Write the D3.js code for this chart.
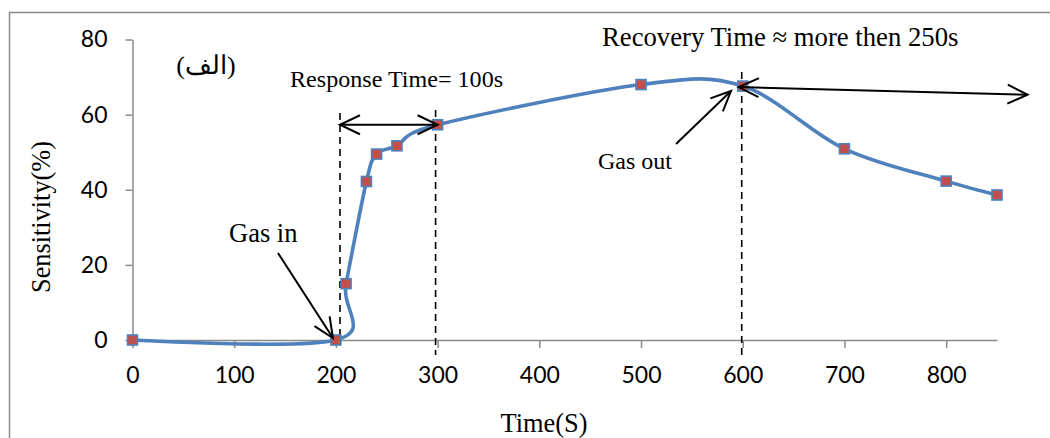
<!DOCTYPE html>
<html>
<head>
<meta charset="utf-8">
<script src="https://cdn.jsdelivr.net/npm/d3@7/dist/d3.min.js"></script>
<style>
  html, body { margin: 0; padding: 0; background: #fff; }
  svg { display: block; }
  .serif { font-family: "Liberation Serif", "Times New Roman", serif; fill: #000; }
  .tick text { font-family: Lato, "Open Sans", sans-serif; font-size: 23px; fill: #000; }
</style>
</head>
<body>
<svg id="chart" width="1050" height="438"></svg>
<script>
// Sensor response: time (s) vs sensitivity (%)
const times = [0, 200, 210, 230, 240, 260, 300, 500, 600, 700, 800, 850];
const sensitivity = [0, 0, 15, 42.2, 49.5, 51.7, 57.3, 68, 67.6, 50.9, 42.3, 38.6];

const xTicks = [0, 100, 200, 300, 400, 500, 600, 700, 800];
const yTicks = [0, 20, 40, 60, 80];

// Annotation anchors (in data units)
const gasInTime = 204;       // start of response window
const responseEndTime = 298; // end of response window
const gasOutTime = 599;      // gas switched off
const recoveryEnd = [880, 65.3];

const svg = d3.select("#chart");
const W = 1050, H = 438;

const x = d3.scaleLinear().domain([0, 850]).range([132.5, 997]);
const y = d3.scaleLinear().domain([0, 80]).range([340, 39.5]);

// Outer chart border
svg.append("rect")
  .attr("x", 9.5).attr("y", 12.5)
  .attr("width", W).attr("height", H)
  .attr("fill", "none").attr("stroke", "#8c8c8c").attr("stroke-width", 1.5);

// Axes
const axisColor = "#8a8a8a";
const gx = svg.append("g")
  .attr("transform", `translate(0,${y(0)})`)
  .call(d3.axisBottom(x).tickValues(xTicks).tickSize(8).tickSizeOuter(0).tickPadding(19)
    .tickFormat(d3.format("d")));
const gy = svg.append("g")
  .attr("transform", `translate(${x(0)},0)`)
  .call(d3.axisLeft(y).tickValues(yTicks).tickSize(7).tickSizeOuter(0).tickPadding(18)
    .tickFormat(d3.format("d")));
[gx, gy].forEach(g => {
  g.select(".domain").attr("stroke", axisColor).attr("stroke-width", 1.5);
  g.selectAll(".tick line").attr("stroke", axisColor).attr("stroke-width", 1.5);
});

// Axis titles
svg.append("text").attr("class", "serif")
  .attr("x", 544).attr("y", 432)
  .attr("text-anchor", "middle").attr("font-size", 26.4)
  .text("Time(S)");
svg.append("text").attr("class", "serif")
  .attr("transform", "translate(50,217) rotate(-90)")
  .attr("text-anchor", "middle").attr("font-size", 26.3)
  .text("Sensitivity(%)");

// Dashed guide lines
const dash = [
  { t: gasInTime, y1: 113, y2: 340 },
  { t: responseEndTime, y1: 110, y2: 355 },
  { t: gasOutTime, y1: 72, y2: 355 }
];
svg.selectAll("line.guide").data(dash).enter().append("line")
  .attr("class", "guide")
  .attr("x1", d => x(d.t)).attr("x2", d => x(d.t))
  .attr("y1", d => d.y1).attr("y2", d => d.y2)
  .attr("stroke", "#000").attr("stroke-width", 1.6)
  .attr("stroke-dasharray", "7,5");

// Smoothed data line
const pts = times.map((t, i) => [t, sensitivity[i]]);
const line = d3.line()
  .x(d => x(d[0])).y(d => y(d[1]))
  .curve(d3.curveCatmullRom.alpha(0));
svg.append("path")
  .datum(pts)
  .attr("d", line)
  .attr("fill", "none")
  .attr("stroke", "#4F81BD")
  .attr("stroke-width", 3.6)
  .attr("stroke-linejoin", "round");

// Square markers
const ms = 10;
svg.selectAll("rect.pt").data(pts).enter().append("rect")
  .attr("class", "pt")
  .attr("x", d => x(d[0]) - ms / 2).attr("y", d => y(d[1]) - ms / 2)
  .attr("width", ms).attr("height", ms)
  .attr("fill", "#C0504D").attr("stroke", "#4F81BD").attr("stroke-width", 1.6);

// Open-V arrow helpers
function head(g, tip, from, len, half) {
  const dx = from[0] - tip[0], dy = from[1] - tip[1];
  const L = Math.hypot(dx, dy), ux = dx / L, uy = dy / L;
  const bx = tip[0] + ux * len, by = tip[1] + uy * len;
  const px = -uy * half, py = ux * half;
  g.append("path")
    .attr("d", `M${bx + px},${by + py}L${tip[0]},${tip[1]}L${bx - px},${by - py}`)
    .attr("fill", "none").attr("stroke", "#000").attr("stroke-width", 2)
    .attr("stroke-linejoin", "miter");
}
function arrow(a, b, both, len = 20, half = 9.5) {
  const g = svg.append("g");
  g.append("line")
    .attr("x1", a[0]).attr("y1", a[1]).attr("x2", b[0]).attr("y2", b[1])
    .attr("stroke", "#000").attr("stroke-width", 2);
  head(g, b, a, len, half);
  if (both) head(g, a, b, len, half);
}

// Response time double arrow
const respY = y(sensitivity[times.indexOf(300)]);
arrow([x(gasInTime), respY], [x(300), respY], true);

// Recovery time double arrow
arrow([x(600) - 4, y(sensitivity[times.indexOf(600)]) + 1], [x(recoveryEnd[0]), y(recoveryEnd[1])], true);

// Gas in / gas out pointers
arrow([278, 253], [x(200) - 3, y(0) - 2], false, 20, 9);
arrow([676, 144], [731, 91], false, 20, 9);

// Text annotations
svg.append("text").attr("class", "serif")
  .attr("x", 290).attr("y", 87).attr("font-size", 24.1)
  .text("Response Time= 100s");
svg.append("text").attr("class", "serif")
  .attr("x", 602).attr("y", 46).attr("font-size", 26.7)
  .text("Recovery Time \u2248 more then 250s");
svg.append("text").attr("class", "serif")
  .attr("x", 229).attr("y", 242).attr("font-size", 26.5)
  .text("Gas in");
svg.append("text").attr("class", "serif")
  .attr("x", 598).attr("y", 169).attr("font-size", 24)
  .text("Gas out");
svg.append("text").attr("class", "serif")
  .attr("x", 206).attr("y", 74).attr("font-size", 26)
  .attr("text-anchor", "middle")
  .attr("font-family", "'Liberation Serif', 'DejaVu Sans', serif")
  .text("(الف)");
</script>
</body>
</html>
